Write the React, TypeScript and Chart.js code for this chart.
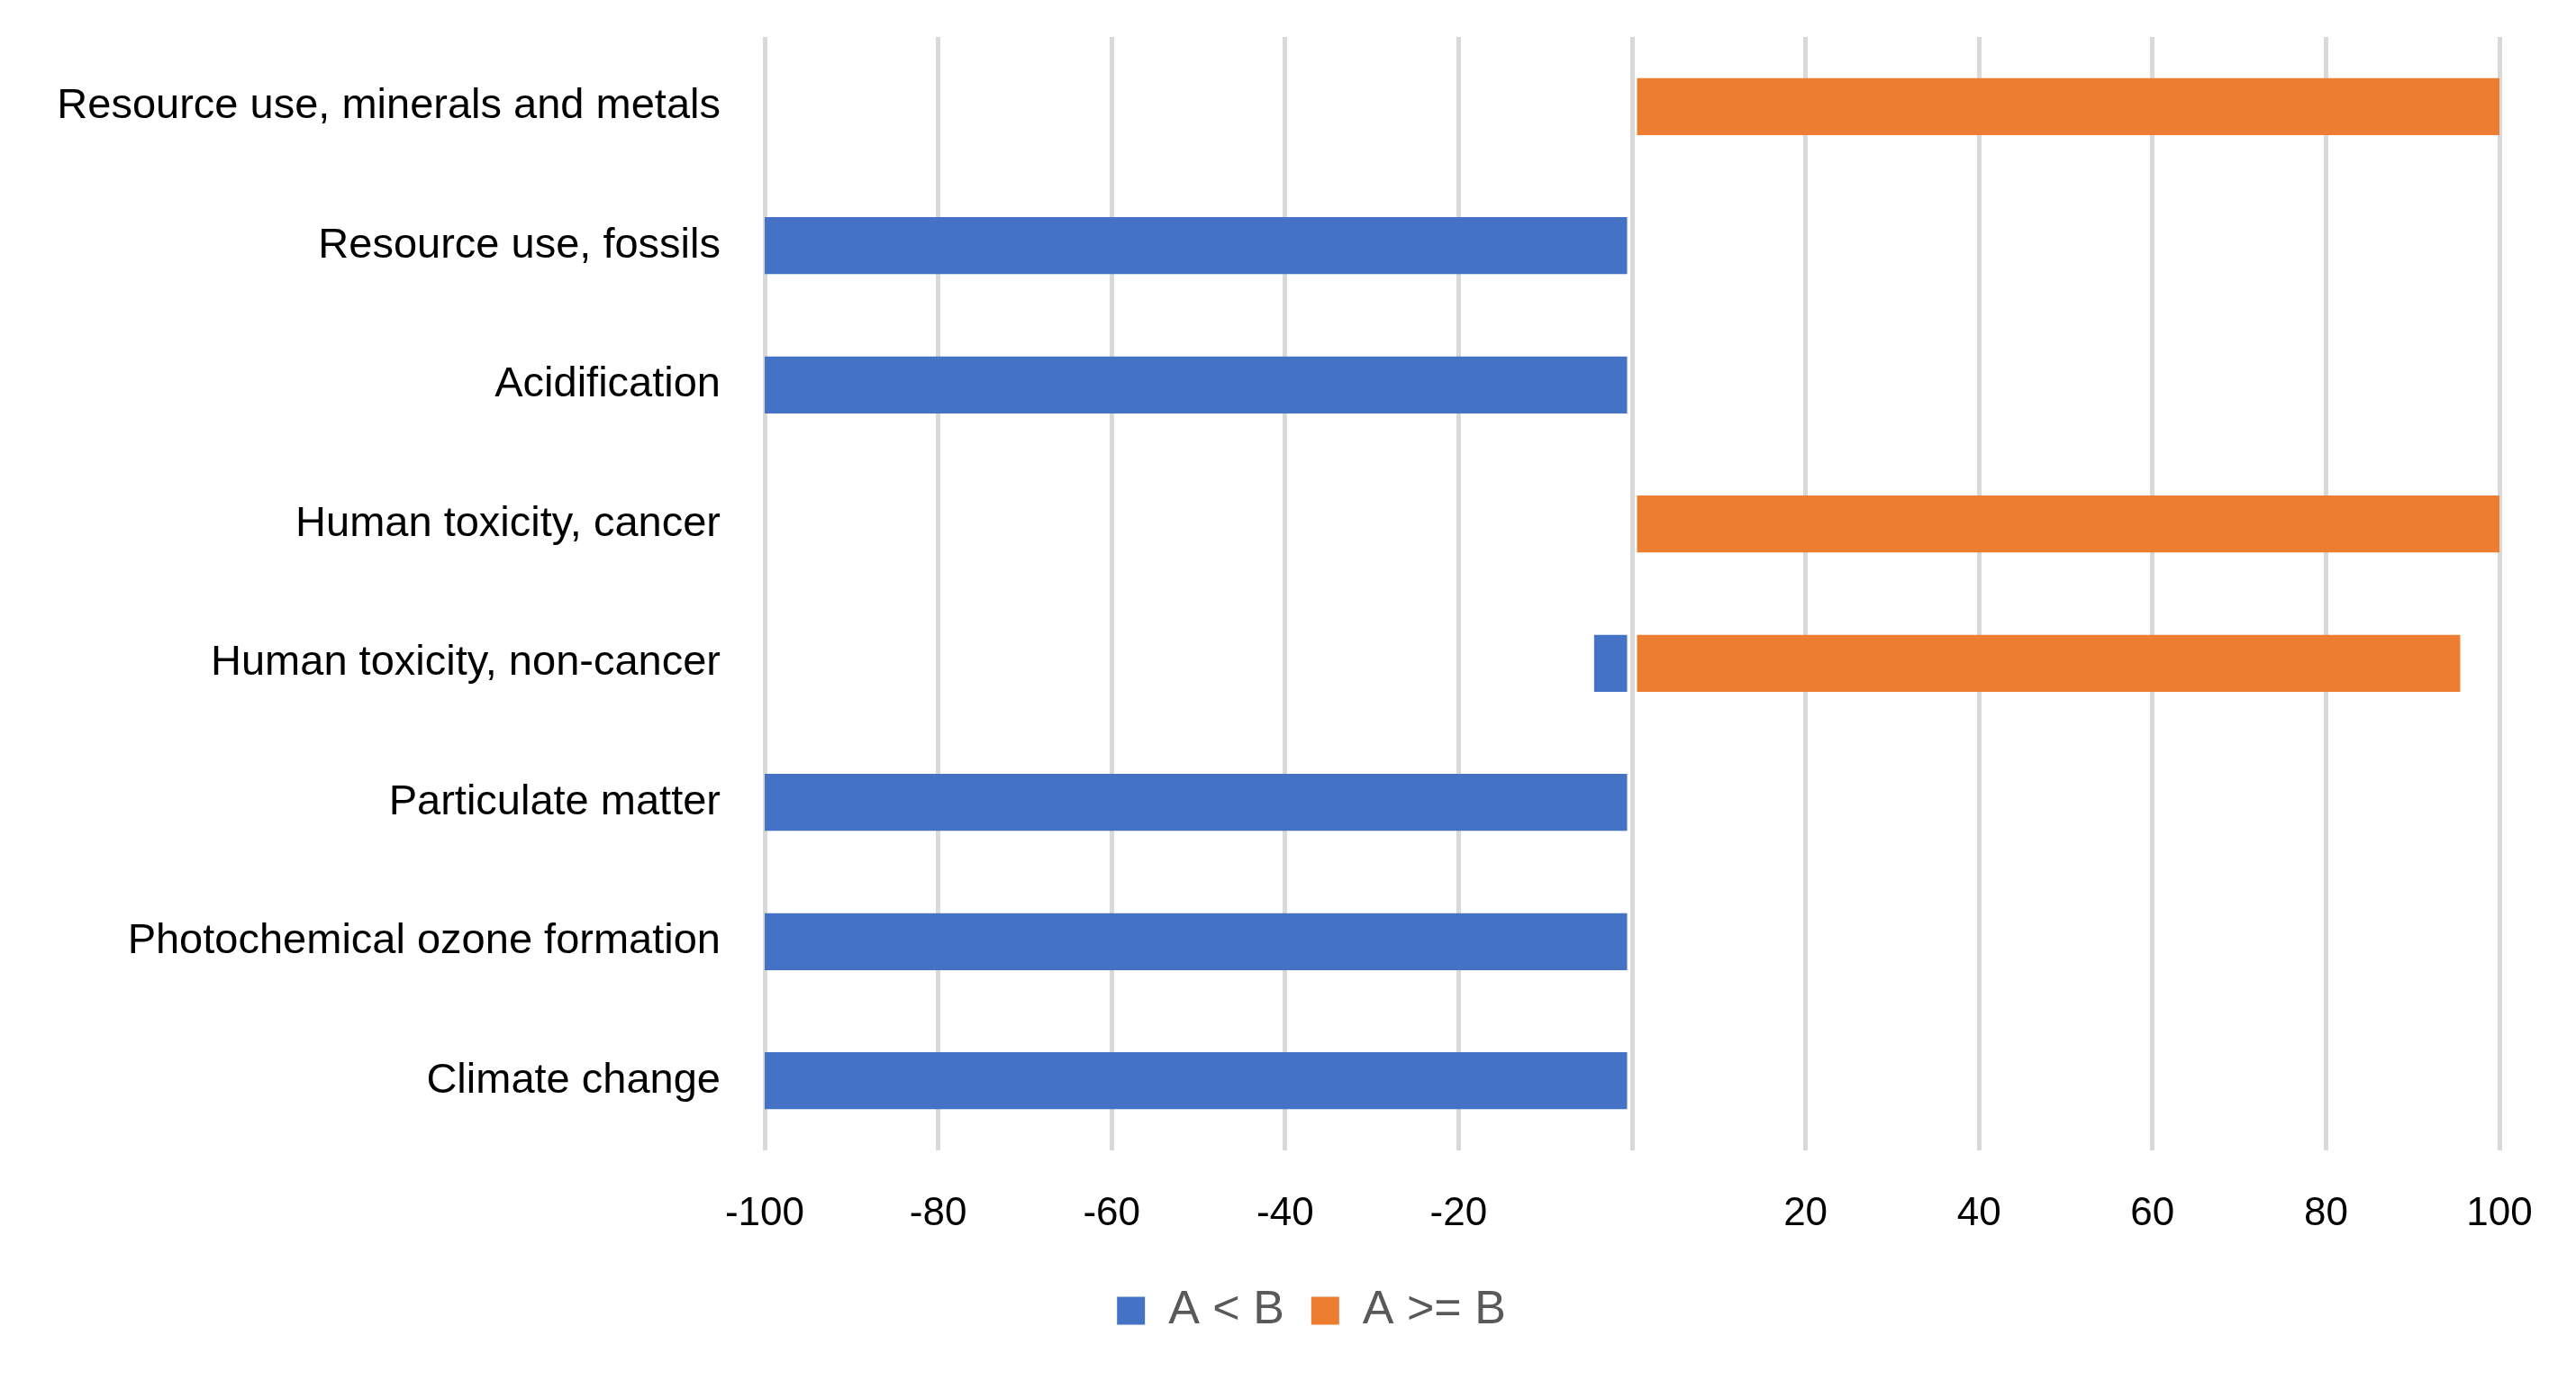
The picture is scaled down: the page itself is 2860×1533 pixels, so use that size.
import React, { useEffect, useRef } from "react";
import { Chart, registerables } from "chart.js";

Chart.register(...registerables);

const categories = [
  "Resource use, minerals and metals",
  "Resource use, fossils",
  "Acidification",
  "Human toxicity, cancer",
  "Human toxicity, non-cancer",
  "Particulate matter",
  "Photochemical ozone formation",
  "Climate change",
];
const seriesNames = ["A < B", "A >= B"];
const lessValues: (number | null)[] = [null, -100, -100, null, -4.4, -100, -100, -100];
const greaterValues: (number | null)[] = [100, null, null, 100, 95.5, null, null, null];
const xTicks = [-100, -80, -60, -40, -20, 0, 20, 40, 60, 80, 100];

const FONT = "'Liberation Sans', Arial, sans-serif";

const W = 2860;
const H = 1533;
const LEGEND_SHIFT = 137;
const PLOT_LEFT = 849;
const PLOT_RIGHT = 2775;
const PLOT_TOP = 41;
const PLOT_BOTTOM = 1277;
const PAD_BOTTOM = 42;
const LEGEND_FONT = 52;
const LEGEND_PAD = 30;

export default function App() {
  const ref = useRef<HTMLCanvasElement | null>(null);
  useEffect(() => {
    if (!ref.current) return;
    const legendHeight = LEGEND_FONT + LEGEND_PAD + 10;
    const xAxisHeight = H - PAD_BOTTOM - legendHeight - PLOT_BOTTOM;
    const legendShift = {
      id: "legendShift",
      afterLayout(c: any) {
        if (c.legend) c.legend.left += LEGEND_SHIFT;
      },
    };
    const chart = new Chart(ref.current, {
      type: "bar",
      plugins: [legendShift],
      data: {
        labels: categories,
        datasets: [
          {
            label: seriesNames[0],
            data: lessValues,
            backgroundColor: "#4472C4",
            borderColor: "rgba(0,0,0,0)",
            borderWidth: { left: 3, right: 3, top: 0, bottom: 0 },
            borderSkipped: "end",
            barPercentage: 0.41,
            categoryPercentage: 1,
          },
          {
            label: seriesNames[1],
            data: greaterValues,
            backgroundColor: "#ED7D31",
            borderColor: "rgba(0,0,0,0)",
            borderWidth: { left: 3, right: 3, top: 0, bottom: 0 },
            borderSkipped: "end",
            barPercentage: 0.41,
            categoryPercentage: 1,
          },
        ],
      },
      options: {
        indexAxis: "y",
        animation: false,
        responsive: true,
        maintainAspectRatio: false,
        devicePixelRatio: 1,
        layout: {
          autoPadding: false,
          padding: { left: 0, right: W - PLOT_RIGHT, top: PLOT_TOP, bottom: PAD_BOTTOM },
        },
        plugins: {
          tooltip: { enabled: false },
          legend: {
            position: "bottom",
            labels: {
              boxWidth: 31,
              boxHeight: 31,
              padding: LEGEND_PAD,
              color: "#595959",
              font: { family: FONT, size: LEGEND_FONT },
              generateLabels: (c: any) =>
                c.data.datasets.map((ds: any, i: number) => ({
                  text: ds.label,
                  fillStyle: ds.backgroundColor,
                  strokeStyle: ds.backgroundColor,
                  lineWidth: 0,
                  hidden: false,
                  datasetIndex: i,
                  fontColor: "#595959",
                })),
            },
          },
        },
        scales: {
          x: {
            type: "linear",
            stacked: true,
            min: -100,
            max: 100,
            afterBuildTicks: (scale: any) => {
              scale.ticks = xTicks.map((v) => ({ value: v }));
            },
            afterFit: (scale: any) => {
              scale.height = xAxisHeight;
              scale.paddingLeft = 0;
              scale.paddingRight = 0;
              scale.paddingTop = 0;
              scale.paddingBottom = 0;
            },
            ticks: {
              color: "#000000",
              font: { family: FONT, size: 44 },
              padding: 44,
              maxRotation: 0,
              autoSkip: false,
              callback: (v: any) => (Number(v) === 0 ? "" : String(v)),
            },
            grid: { color: "#D9D9D9", lineWidth: 5, drawTicks: false },
            border: { display: false },
          },
          y: {
            stacked: true,
            afterFit: (scale: any) => {
              scale.width = PLOT_LEFT;
              scale.paddingLeft = 0;
              scale.paddingRight = 0;
              scale.paddingTop = 0;
              scale.paddingBottom = 0;
            },
            ticks: {
              color: "#000000",
              font: { family: FONT, size: 47 },
              padding: 49,
              autoSkip: false,
            },
            grid: { display: false, drawTicks: false },
            border: { display: false },
          },
        },
      },
    });
    return () => chart.destroy();
  }, []);
  return (
    <div style={{ position: "fixed", left: 0, top: 0, width: W, height: H, background: "#fff" }}>
      <canvas ref={ref} />
    </div>
  );
}
